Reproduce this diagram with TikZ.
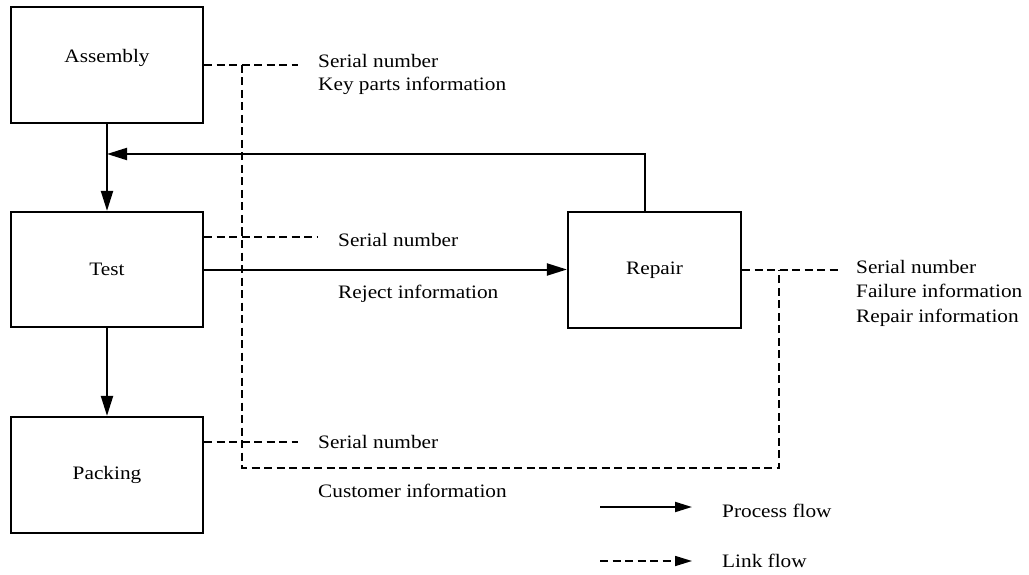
\documentclass[tikz,border=0pt]{standalone}
\usepackage{fontspec}
\setmainfont{Liberation Serif}[FakeStretch=1.12]
\usetikzlibrary{arrows.meta}
\begin{document}
\begin{tikzpicture}[x=1pt,y=-1pt,
  font=\fontsize{19}{24}\selectfont,
  stage/.style={draw, line width=2.2pt, minimum width=192pt, minimum height=116pt, inner sep=0pt},
  flow/.style={line width=2pt, -{Triangle[length=20pt,width=12pt]}},
  keyflow/.style={line width=2pt, -{Triangle[length=17pt,width=10pt]}},
  link/.style={line width=1.6pt, dash pattern=on 8pt off 4.5pt},
  info/.style={anchor=base west, inner sep=0pt},
]
\useasboundingbox (0,0) rectangle (1029,575);

% process stages
\node[stage] (asm) at (107,65) {};
\node[anchor=base, inner sep=0pt] (asmtxt) at (107,63) {Assembly};
\node[stage, minimum height=115pt] (tst) at (107,269.5) {Test};
\node[stage] (pck) at (107,475) {Packing};
\node[stage, minimum width=173pt] (rep) at (654.5,270) {Repair};

% process flow
\draw[flow] (asm) -- (tst);
\draw[flow] (tst) -- (pck);
\draw[flow] (tst.east) -- (tst.east -| rep.west);
\coordinate (ret) at (645,154);
\draw[flow] (rep.north -| ret) -- (ret) -- (ret -| asm.south);

% link flow
\coordinate (asmend) at (298,65);
\coordinate (tstend) at (318,237);
\coordinate (pckend) at (298,442);
\coordinate (repend) at (838,270);
\coordinate (busTop) at (242,65);
\coordinate (busLowL) at (242,468);
\coordinate (busLowR) at (779,468);
\coordinate (busRep) at (779,270);
\draw[link] (asm.east) -- (asmend);
\draw[link] (tst.east |- tstend) -- (tstend);
\draw[link] (pck.east |- pckend) -- (pckend);
\draw[link] (rep.east) -- (repend);
\draw[link] (busTop) -- (busLowL) -- (busLowR) -- (busRep);

% information labels
\node[info] (a1) at (318,68) {Serial number};
\node[info] (a2) at (318,91) {Key parts information};
\node[info] (t1) at (338,247) {Serial number};
\node[info] (t2) at (338,298) {Reject information};
\node[info] (p1) at (318,448) {Serial number};
\node[info] (p2) at (318,497) {Customer information};
\node[info] (r1) at (856,273) {Serial number};
\node[info] (r2) at (856,297) {Failure information};
\node[info] (r3) at (856,322) {Repair information};

% legend
\coordinate (pf0) at (600,507);
\coordinate (pf1) at (692,507);
\coordinate (lf0) at (600,561);
\coordinate (lf1) at (692,561);
\draw[keyflow] (pf0) -- (pf1);
\draw[link, -{Triangle[length=17pt,width=10pt]}] (lf0) -- (lf1);
\node[info] (pfl) at (722,517) {Process flow};
\node[info] (lfl) at (722,567) {Link flow};
\end{tikzpicture}
\end{document}
